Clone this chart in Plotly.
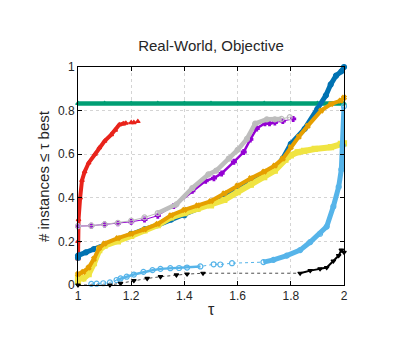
import plotly.graph_objects as go

# ---------------- data ----------------
green_x = [1.0, 1.1, 1.2, 1.3, 1.4, 1.5, 1.6, 1.7, 1.8, 1.9, 2.0]
green_y = [0.833] * 11

red_x = [1.0, 1.0, 1.002, 1.008, 1.015, 1.025, 1.04, 1.064, 1.08, 1.1, 1.125, 1.14, 1.155, 1.17, 1.18, 1.2, 1.21, 1.225]
red_y = [0.12, 0.2, 0.3, 0.4, 0.48, 0.52, 0.56, 0.6, 0.63, 0.66, 0.69, 0.71, 0.735, 0.74, 0.742, 0.745, 0.745, 0.75]

gray_x = [1.0, 1.05, 1.1, 1.15, 1.2, 1.25, 1.3, 1.37, 1.43, 1.49, 1.52, 1.567, 1.6, 1.635, 1.666, 1.71, 1.74, 1.765, 1.796]
gray_y = [0.27, 0.272, 0.278, 0.285, 0.295, 0.31, 0.33, 0.37, 0.445, 0.507, 0.525, 0.58, 0.62, 0.67, 0.74, 0.76, 0.76, 0.762, 0.77]

purple_x = [1.0, 1.05, 1.1, 1.15, 1.2, 1.25, 1.3, 1.36, 1.43, 1.48, 1.511, 1.54, 1.586, 1.623, 1.648, 1.672, 1.703, 1.72, 1.74, 1.77, 1.809]
purple_y = [0.27, 0.272, 0.278, 0.283, 0.29, 0.3, 0.318, 0.362, 0.432, 0.478, 0.49, 0.512, 0.565, 0.61, 0.668, 0.718, 0.742, 0.742, 0.745, 0.752, 0.762]

blue_x = [1.0, 1.0, 1.03, 1.06, 1.1, 1.15, 1.2, 1.25, 1.3, 1.35, 1.4, 1.45, 1.5, 1.55, 1.6, 1.65, 1.7, 1.74, 1.77, 1.8, 1.852, 1.9, 1.932, 1.95, 1.97, 1.99, 2.0]
blue_y = [0.125, 0.135, 0.15, 0.165, 0.185, 0.21, 0.235, 0.255, 0.275, 0.3, 0.32, 0.35, 0.38, 0.405, 0.434, 0.47, 0.505, 0.533, 0.58, 0.647, 0.716, 0.808, 0.87, 0.92, 0.96, 0.98, 1.0]

orange_x = [1.0, 1.02, 1.04, 1.06, 1.08, 1.1, 1.15, 1.2, 1.25, 1.3, 1.35, 1.4, 1.45, 1.5, 1.55, 1.6, 1.65, 1.7, 1.74, 1.77, 1.8, 1.83, 1.864, 1.914, 1.951, 1.988, 2.0]
orange_y = [0.05, 0.06, 0.08, 0.12, 0.17, 0.19, 0.215, 0.235, 0.255, 0.28, 0.32, 0.345, 0.365, 0.385, 0.42, 0.456, 0.49, 0.52, 0.548, 0.58, 0.632, 0.68, 0.73, 0.8, 0.83, 0.846, 0.86]

yellow_x = [1.0, 1.0, 1.02, 1.04, 1.06, 1.08, 1.1, 1.15, 1.2, 1.25, 1.3, 1.35, 1.4, 1.45, 1.5, 1.55, 1.6, 1.65, 1.7, 1.74, 1.78, 1.8, 1.826, 1.85, 1.89, 1.951, 1.988, 2.0]
yellow_y = [0.015, 0.04, 0.03, 0.05, 0.1, 0.16, 0.18, 0.2, 0.225, 0.25, 0.275, 0.31, 0.33, 0.35, 0.365, 0.39, 0.426, 0.46, 0.495, 0.525, 0.575, 0.595, 0.609, 0.615, 0.624, 0.632, 0.647, 0.65]

lblue_x = [1.05, 1.07, 1.095, 1.12, 1.145, 1.16, 1.183, 1.21, 1.246, 1.28, 1.31, 1.347, 1.38, 1.41, 1.46, 1.51, 1.535, 1.579, 1.697, 1.735, 1.785, 1.835, 1.873, 1.91, 1.935, 1.96, 1.98, 1.99, 1.995, 2.0]
lblue_y = [0.005, 0.006, 0.008, 0.012, 0.023, 0.03, 0.038, 0.048, 0.06, 0.068, 0.074, 0.077, 0.078, 0.08, 0.085, 0.095, 0.094, 0.1, 0.105, 0.115, 0.135, 0.16, 0.197, 0.235, 0.268, 0.36, 0.45, 0.53, 0.64, 0.82]

black_x = [1.0, 1.12, 1.16, 1.21, 1.26, 1.31, 1.37, 1.41, 1.47, 1.835, 1.873, 1.91, 1.935, 1.96, 1.98, 1.99, 2.0]
black_y = [0.0, 0.0, 0.008, 0.02, 0.03, 0.038, 0.046, 0.05, 0.054, 0.054, 0.066, 0.074, 0.08, 0.11, 0.135, 0.16, 0.15]

x_ticks = [1, 1.2, 1.4, 1.6, 1.8, 2]
x_tick_labels = ["1", "1.2", "1.4", "1.6", "1.8", "2"]
y_ticks = [0, 0.2, 0.4, 0.6, 0.8, 1]
y_tick_labels = ["0", "0.2", "0.4", "0.6", "0.8", "1"]

# ---------------- figure ----------------
fig = go.Figure()


def add_series(xs, ys, color, symbol, msize, segments=(), thin_dash="solid",
               thin_w=1.0, open_marker=False):
    # thin line with markers across the whole series
    fig.add_trace(go.Scatter(
        x=xs, y=ys, mode="lines+markers", cliponaxis=False,
        line=dict(color=color, width=thin_w, dash=thin_dash),
        marker=dict(symbol=symbol, size=msize, color=("white" if open_marker else color),
                    line=dict(color=color, width=1.2)),
        showlegend=False, hoverinfo="skip"))
    # thicker strokes where the markers crowd together
    for lo, hi, w in segments:
        sx = [x for x in xs if lo <= x <= hi]
        sy = [y for x, y in zip(xs, ys) if lo <= x <= hi]
        fig.add_trace(go.Scatter(
            x=sx, y=sy, mode="lines", cliponaxis=False,
            line=dict(color=color, width=w),
            showlegend=False, hoverinfo="skip"))


add_series(green_x, green_y, "#009E73", "triangle-up", 4, [(1.0, 2.0, 4.5)])
add_series(red_x, red_y, "#E8231B", "triangle-up", 4, [(1.0, 1.18, 4)])
add_series(purple_x, purple_y, "#9400D3", "cross", 4, [(1.36, 1.72, 2.5)])
add_series(gray_x, gray_y, "#BDBDBD", "circle-open", 5, [(1.3, 1.77, 4.5)])
add_series(blue_x, blue_y, "#0072B2", "circle", 5, [(1.0, 2.0, 5)])
add_series(yellow_x, yellow_y, "#F0E442", "square", 5, [(1.0, 2.0, 6)])
add_series(orange_x, orange_y, "#E69F00", "x", 4, [(1.0, 2.0, 4)])
add_series(lblue_x, lblue_y, "#56B4E9", "circle-open", 5,
           [(1.14, 1.47, 2.5), (1.69, 2.0, 5)], thin_dash="dot")
add_series(black_x, black_y, "#000000", "triangle-down", 4,
           [(1.835, 2.0, 2)], thin_dash="dot", thin_w=0.7)

axis_common = dict(
    showline=True, linecolor="black", linewidth=1, mirror="ticks",
    ticks="inside", ticklen=4, tickcolor="black",
    showgrid=True, gridcolor="#D4D4D4", griddash="dot", gridwidth=1,
    zeroline=False, tickfont=dict(family="Liberation Sans", size=12, color="#262626"),
)

fig.update_xaxes(range=[1, 2], tickvals=x_ticks, ticktext=x_tick_labels, **axis_common)
fig.update_yaxes(range=[0, 1], tickvals=y_ticks, ticktext=y_tick_labels, **axis_common)

# the page body adds an 8 px offset, so margins are reduced by 8 on the left/top
fig.update_layout(
    width=407, height=352,
    margin=dict(l=70, r=71, t=59, b=75),
    paper_bgcolor="white", plot_bgcolor="white",
    title=dict(text="Real-World, Objective", x=(70 + 133) / 407, xanchor="center",
               y=1 - 38 / 352, yanchor="middle", yref="container",
               font=dict(family="Liberation Sans", size=15, color="#262626")),
    annotations=[
        dict(text="τ", x=0.5, y=-24 / 218, xref="paper", yref="paper",
             xanchor="center", yanchor="middle", showarrow=False,
             font=dict(family="Liberation Sans", size=16, color="#262626")),
        dict(text="# instances ≤ τ best", x=-35 / 266, y=0.5, xref="paper", yref="paper",
             xanchor="center", yanchor="middle", textangle=-90, showarrow=False,
             font=dict(family="Liberation Sans", size=15, color="#262626")),
    ],
)

fig.write_html("out.html")
